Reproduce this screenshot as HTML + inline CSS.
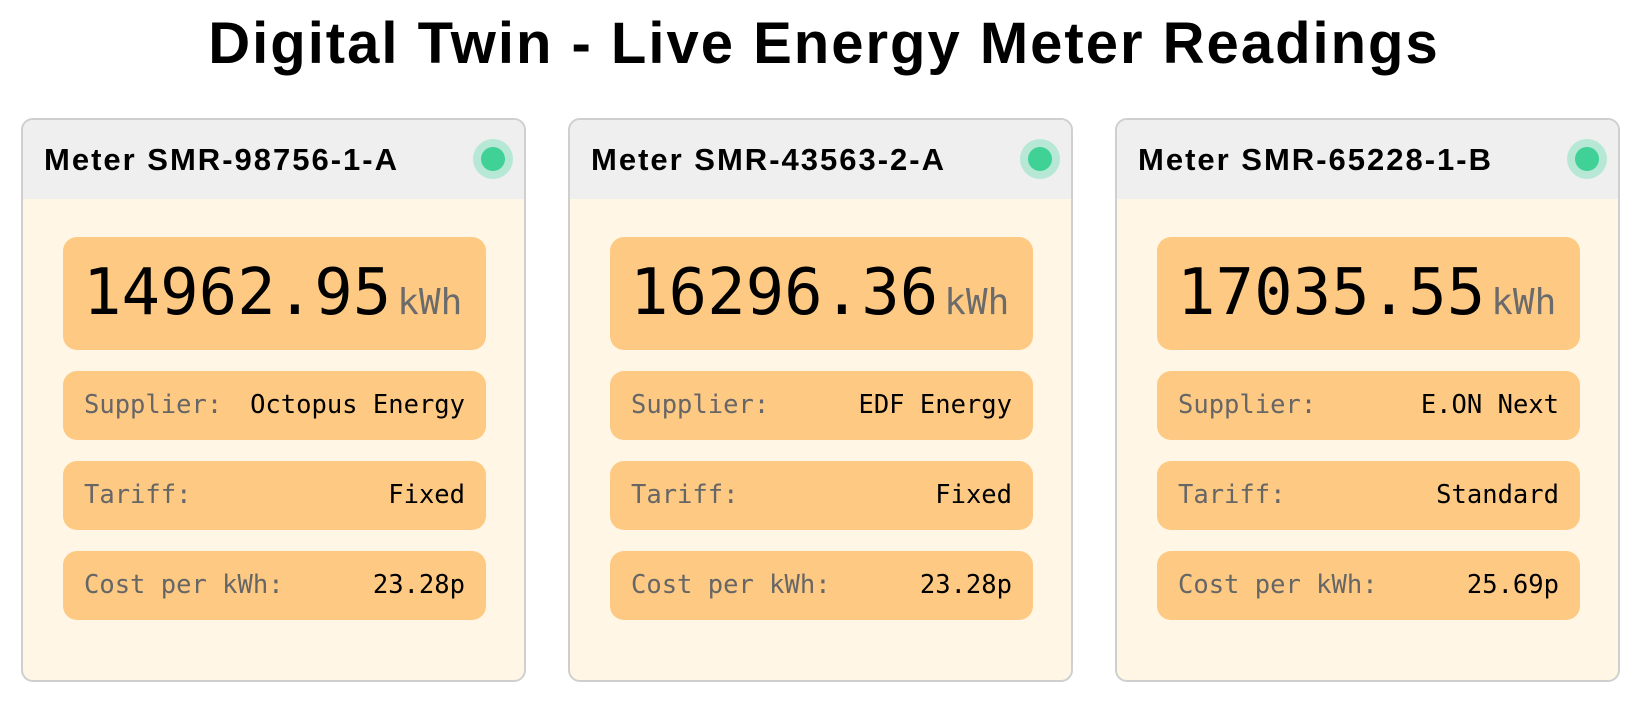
<!DOCTYPE html>
<html><head><meta charset="utf-8"><style>
body{margin:0;width:1648px;height:722px;background:#fff;font-family:"Liberation Sans",sans-serif;position:relative;overflow:hidden}
h1{position:absolute;left:0;right:0;top:8px;margin:0;text-align:center;font-size:58px;letter-spacing:2px;font-weight:bold;color:#000;line-height:72px}
.card{position:absolute;top:118px;width:505px;height:564px;border:2px solid #cfcfcf;border-radius:12px;background:#fff6e6;overflow:hidden;box-sizing:border-box}
.hdr{height:79px;background:#efefef;position:relative}
.hdr .t{position:absolute;left:21px;top:21px;font-size:31px;letter-spacing:2px;font-weight:bold;line-height:38px}
.dot{position:absolute;left:450px;top:19px;width:40px;height:40px;border-radius:50%;background:#b7e8d6}
.dot::after{content:"";position:absolute;left:8px;top:8px;width:24px;height:24px;border-radius:50%;background:#3fd196}
.box{position:absolute;left:40px;width:423px;background:#fdc983;border-radius:14px;font-family:"DejaVu Sans Mono",monospace}
.rd{top:117px;height:113px}
.rd .v{position:absolute;left:20px;top:20px;font-size:64px;line-height:72px;color:#000}
.rd .u{font-size:36px;color:#6b6b6b;margin-left:6px}
.row{height:69px;font-size:25.5px;line-height:69px;padding:0 21px;box-sizing:border-box;display:flex;justify-content:space-between}
.row .k{color:#666}
.row .vv{color:#000}
</style></head><body>
<h1>Digital Twin - Live Energy Meter Readings</h1>

<div class="card" style="left:21px">
 <div class="hdr"><div class="t">Meter SMR-98756-1-A</div><div class="dot"></div></div>
 <div class="box rd"><div class="v">14962.95<span class="u">kWh</span></div></div>
 <div class="box row" style="top:251px"><span class="k">Supplier:</span><span class="vv">Octopus Energy</span></div>
 <div class="box row" style="top:341px"><span class="k">Tariff:</span><span class="vv">Fixed</span></div>
 <div class="box row" style="top:431px"><span class="k">Cost per kWh:</span><span class="vv">23.28p</span></div>
</div>

<div class="card" style="left:568px">
 <div class="hdr"><div class="t">Meter SMR-43563-2-A</div><div class="dot"></div></div>
 <div class="box rd"><div class="v">16296.36<span class="u">kWh</span></div></div>
 <div class="box row" style="top:251px"><span class="k">Supplier:</span><span class="vv">EDF Energy</span></div>
 <div class="box row" style="top:341px"><span class="k">Tariff:</span><span class="vv">Fixed</span></div>
 <div class="box row" style="top:431px"><span class="k">Cost per kWh:</span><span class="vv">23.28p</span></div>
</div>

<div class="card" style="left:1115px">
 <div class="hdr"><div class="t">Meter SMR-65228-1-B</div><div class="dot"></div></div>
 <div class="box rd"><div class="v">17035.55<span class="u">kWh</span></div></div>
 <div class="box row" style="top:251px"><span class="k">Supplier:</span><span class="vv">E.ON Next</span></div>
 <div class="box row" style="top:341px"><span class="k">Tariff:</span><span class="vv">Standard</span></div>
 <div class="box row" style="top:431px"><span class="k">Cost per kWh:</span><span class="vv">25.69p</span></div>
</div>
</body></html>
